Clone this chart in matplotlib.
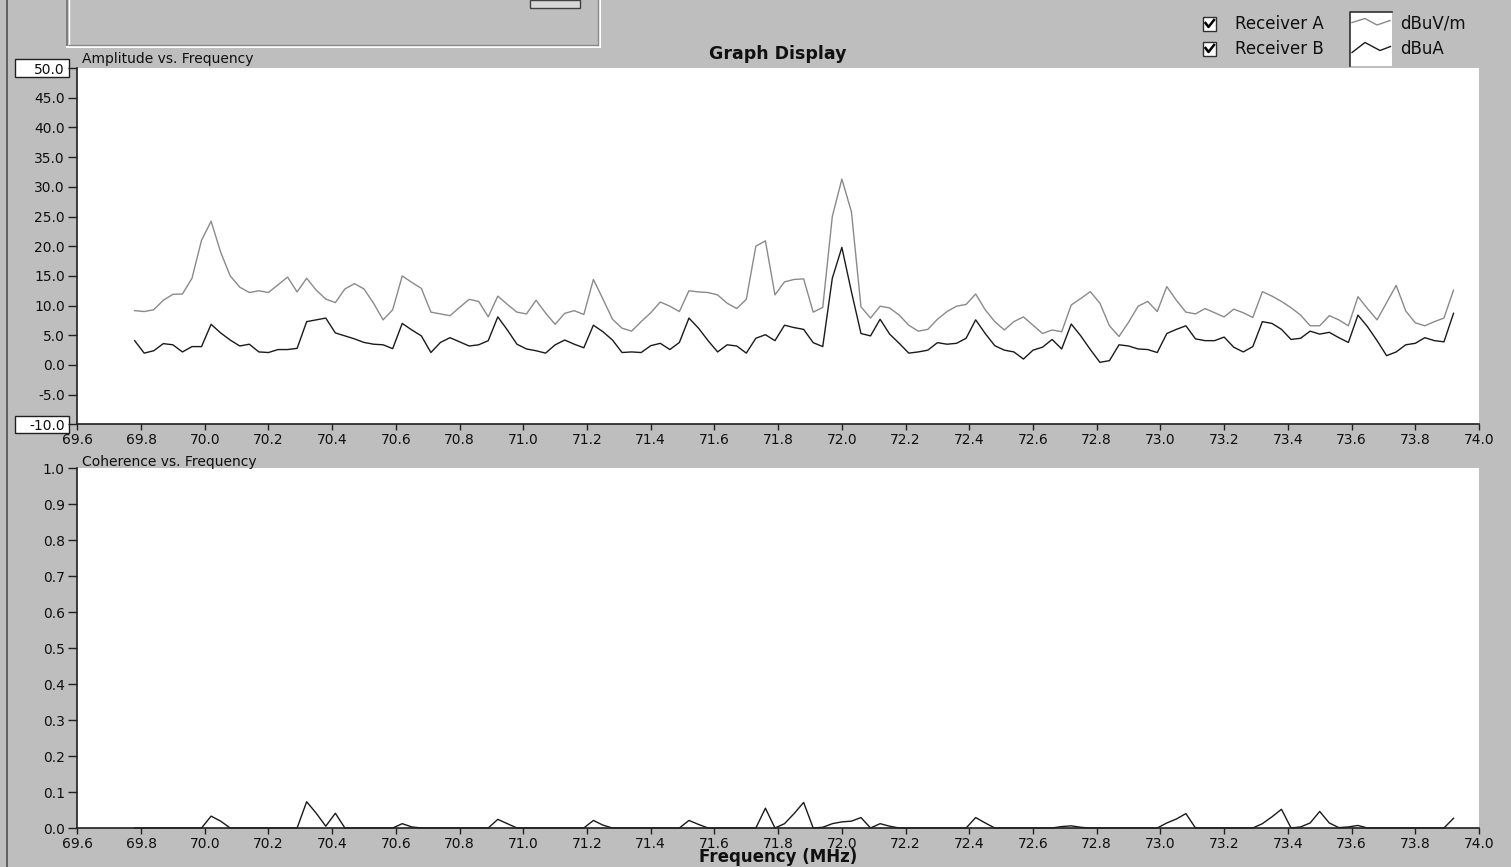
import numpy as np
import matplotlib
matplotlib.use("Agg")
import matplotlib.pyplot as plt
from matplotlib.patches import Rectangle
from matplotlib.lines import Line2D
from matplotlib.ticker import FormatStrFormatter

# ---------------- data ----------------
freq_start = 69.78   # MHz, first sample
freq_step = 0.03     # MHz, sample spacing

receiver_a = [  # dBuV/m (grey trace)
    9.15, 9.0, 9.3, 10.9, 11.9, 11.95, 14.6, 21.0, 24.2, 19.0,
    15.0, 13.1, 12.2, 12.5, 12.2, 13.5, 14.8, 12.3, 14.6, 12.6,
    11.1, 10.5, 12.8, 13.7, 12.8, 10.4, 7.6, 9.3, 15.0, 13.9,
    12.9, 8.9, 8.6, 8.3, 9.7, 11.05, 10.7, 8.1, 11.6, 10.2,
    8.9, 8.6, 10.9, 8.75, 6.85, 8.7, 9.15, 8.5, 14.4, 11.1,
    7.7, 6.2, 5.7, 7.3, 8.8, 10.6, 9.9, 9.0, 12.5, 12.3,
    12.2, 11.8, 10.4, 9.5, 11.05, 20.0, 20.9, 11.8, 14.0, 14.4,
    14.5, 8.9, 9.7, 25.0, 31.3, 25.8, 9.8, 7.9, 9.9, 9.6,
    8.4, 6.7, 5.7, 6.0, 7.7, 9.0, 9.9, 10.2, 11.95, 9.3,
    7.3, 5.9, 7.3, 8.1, 6.7, 5.3, 5.9, 5.6, 10.1, 11.2,
    12.35, 10.4, 6.6, 4.8, 7.2, 9.9, 10.7, 9.0, 13.2, 10.9,
    8.9, 8.6, 9.5, 8.8, 8.1, 9.4, 8.8, 8.0, 12.35, 11.6,
    10.7, 9.65, 8.4, 6.6, 6.6, 8.3, 7.6, 6.6, 11.5, 9.5,
    7.6, 10.5, 13.4, 9.1, 7.1, 6.6, 7.3, 7.9, 12.6,
]

receiver_b = [  # dBuA (black trace)
    4.1, 2.0, 2.4, 3.6, 3.4, 2.2, 3.1, 3.1, 6.85, 5.4,
    4.2, 3.2, 3.5, 2.2, 2.1, 2.6, 2.6, 2.8, 7.3, 7.6,
    7.9, 5.4, 4.9, 4.4, 3.8, 3.5, 3.4, 2.75, 7.0, 5.9,
    4.9, 2.1, 3.8, 4.6, 3.9, 3.2, 3.4, 4.1, 8.1, 5.9,
    3.5, 2.7, 2.4, 2.0, 3.4, 4.2, 3.5, 2.9, 6.7, 5.6,
    4.2, 2.1, 2.2, 2.1, 3.25, 3.65, 2.6, 3.8, 7.9, 6.2,
    4.1, 2.2, 3.4, 3.2, 2.0, 4.5, 5.1, 4.1, 6.7, 6.3,
    6.0, 3.76, 3.1, 14.6, 19.8, 12.35, 5.3, 4.9, 7.7, 5.2,
    3.65, 2.0, 2.2, 2.5, 3.76, 3.5, 3.65, 4.5, 7.6, 5.3,
    3.25, 2.5, 2.2, 1.0, 2.5, 3.0, 4.3, 2.7, 6.9, 4.9,
    2.6, 0.45, 0.73, 3.4, 3.2, 2.7, 2.6, 2.1, 5.3, 6.0,
    6.6, 4.4, 4.1, 4.1, 4.7, 3.0, 2.2, 3.1, 7.3, 7.0,
    6.0, 4.3, 4.5, 5.7, 5.2, 5.5, 4.6, 3.8, 8.4, 6.45,
    4.1, 1.57, 2.2, 3.4, 3.65, 4.6, 4.1, 3.9, 8.7,
]

coherence = [
    0, 0, 0, 0, 0, 0, 0, 0, 0.033, 0.019,
    0, 0, 0, 0, 0, 0, 0, 0, 0.073, 0.041,
    0.005, 0.041, 0, 0, 0, 0, 0, 0, 0.012, 0.003,
    0, 0, 0, 0, 0, 0, 0, 0, 0.024, 0.012,
    0, 0, 0, 0, 0, 0, 0, 0, 0.021, 0.008,
    0, 0, 0, 0, 0, 0, 0, 0, 0.021, 0.01,
    0, 0, 0, 0, 0, 0, 0.055, 0, 0.012, 0.04,
    0.071, 0, 0.002, 0.012, 0.017, 0.019, 0.029, 0, 0.012, 0.005,
    0, 0, 0, 0, 0, 0, 0, 0, 0.029, 0.014,
    0, 0, 0, 0, 0, 0, 0, 0.004, 0.006, 0.002,
    0, 0, 0, 0, 0, 0, 0, 0, 0.014, 0.025,
    0.04, 0, 0, 0, 0, 0, 0, 0, 0.012, 0.031,
    0.052, 0, 0.003, 0.014, 0.046, 0.014, 0.001, 0.003, 0.007, 0,
    0, 0, 0, 0, 0, 0, 0, 0, 0.027,
]

freq = freq_start + freq_step * np.arange(len(receiver_a))

amp_ticks = np.arange(-10, 50.1, 5)
coh_ticks = np.arange(0, 1.01, 0.1)
freq_ticks = np.arange(69.6, 74.01, 0.2)

# ---------------- figure ----------------
plt.rcParams['font.family'] = ['DejaVu Sans']
plt.rcParams['axes.unicode_minus'] = False

W, H = 1511, 867
BG = '#bebebe'
fig = plt.figure(figsize=(W / 100, H / 100), dpi=100, facecolor=BG)


def fx(x):
    return x / W


def fy(y):
    return 1 - y / H


def style_axes(ax):
    ax.set_facecolor('white')
    for s in ('top', 'right'):
        ax.spines[s].set_visible(False)
    for s in ('left', 'bottom'):
        ax.spines[s].set_color('#202020')
        ax.spines[s].set_linewidth(1.2)
    ax.tick_params(axis='y', direction='out', length=6.5, width=1.0,
                   pad=2.5, labelsize=10, colors='#202020', labelcolor='#101010')
    ax.tick_params(axis='x', direction='out', length=4.3, width=1.0,
                   pad=2.0, labelsize=10, colors='#202020', labelcolor='#101010')
    ax.set_xlim(69.6, 74.0)
    ax.set_xticks(freq_ticks)
    ax.xaxis.set_major_formatter(FormatStrFormatter('%.1f'))
    ax.yaxis.set_major_formatter(FormatStrFormatter('%.1f'))


L, R = 77.3, 1479.0
ax1 = fig.add_axes([fx(L), fy(424.4), fx(R) - fx(L), fy(68) - fy(424.4)])
ax2 = fig.add_axes([fx(L), fy(828), fx(R) - fx(L), fy(468) - fy(828)])
for ax in (ax1, ax2):
    style_axes(ax)

ax1.set_ylim(-10, 50)
ax1.set_yticks(amp_ticks)
ax1.plot(freq, receiver_a, color='#8a8a8a', lw=1.0)
ax1.plot(freq, receiver_b, color='#1a1a1a', lw=1.0)

ax2.set_ylim(0, 1.0)
ax2.set_yticks(coh_ticks)
ax2.plot(freq, coherence, color='#1a1a1a', lw=1.0, clip_on=False)

# edit boxes around 50.0 and -10.0
for yc in (68, 424.4):
    fig.patches.append(Rectangle((fx(15), fy(yc + 8.5)), fx(54), 17 / H,
                                 transform=fig.transFigure, facecolor='white',
                                 edgecolor='#202020', lw=1.0, zorder=-1))

# top-left panel (sunken frame)
fig.add_artist(Line2D([fx(67), fx(67)], [fy(0), fy(46)], color='#707070', lw=1.2))
fig.add_artist(Line2D([fx(69), fx(69)], [fy(0), fy(44)], color='white', lw=1.0))
fig.add_artist(Line2D([fx(67), fx(600)], [fy(46.5), fy(46.5)], color='white', lw=1.4))
fig.add_artist(Line2D([fx(69), fx(598)], [fy(44.5), fy(44.5)], color='#8a8a8a', lw=1.0))
fig.add_artist(Line2D([fx(600), fx(600)], [fy(0), fy(46.5)], color='white', lw=1.4))
fig.add_artist(Line2D([fx(598), fx(598)], [fy(0), fy(44.5)], color='#8a8a8a', lw=1.0))
fig.patches.append(Rectangle((fx(530), fy(8)), fx(50), 8 / H, transform=fig.transFigure,
                             facecolor='#d8d8d8', edgecolor='#404040', lw=1.0))

# left window edge
fig.add_artist(Line2D([fx(7), fx(7)], [0, 1], color='#505050', lw=1.2))

# titles
fig.text(fx(778), fy(54), 'Graph Display', ha='center', va='center',
         fontsize=12.5, fontweight='bold', color='#101010')
fig.text(fx(82), fy(59.5), 'Amplitude vs. Frequency', ha='left', va='center',
         fontsize=10, color='#101010')
fig.text(fx(82), fy(462), 'Coherence vs. Frequency', ha='left', va='center',
         fontsize=10, color='#101010')
fig.text(fx(778), fy(857.5), 'Frequency (MHz)', ha='center', va='center',
         fontsize=12, fontweight='bold', color='#101010')

# legend: check boxes
for yc, label in ((24, 'Receiver A'), (49, 'Receiver B')):
    fig.patches.append(Rectangle((fx(1203), fy(yc + 6.5)), fx(13), 13 / H,
                                 transform=fig.transFigure, facecolor='white',
                                 edgecolor='#303030', lw=1.0))
    fig.add_artist(Line2D([fx(1205.5), fx(1208.5), fx(1214)],
                          [fy(yc - 1), fy(yc + 3), fy(yc - 4)],
                          color='black', lw=1.8))
    fig.text(fx(1235), fy(yc), label, ha='left', va='center', fontsize=12,
             color='#101010')

# legend: line samples
fig.patches.append(Rectangle((fx(1350), fy(66)), fx(42), 54 / H,
                             transform=fig.transFigure, facecolor='white',
                             edgecolor='none'))
fig.add_artist(Line2D([fx(1350), fx(1350), fx(1392)], [fy(66), fy(12), fy(12)],
                      color='#303030', lw=1.2))
fig.add_artist(Line2D([fx(1352), fx(1365), fx(1377), fx(1390)],
                      [fy(22.5), fy(18.5), fy(25), fy(20.5)], color='#8a8a8a', lw=1.0))
fig.add_artist(Line2D([fx(1352), fx(1365), fx(1380), fx(1390.5)],
                      [fy(52.5), fy(42.5), fy(50.5), fy(46.5)], color='#1a1a1a', lw=1.0))
fig.text(fx(1400), fy(24), 'dBuV/m', ha='left', va='center', fontsize=12, color='#101010')
fig.text(fx(1400), fy(49), 'dBuA', ha='left', va='center', fontsize=12, color='#101010')

fig.savefig('out.png', dpi=100, facecolor=BG)
